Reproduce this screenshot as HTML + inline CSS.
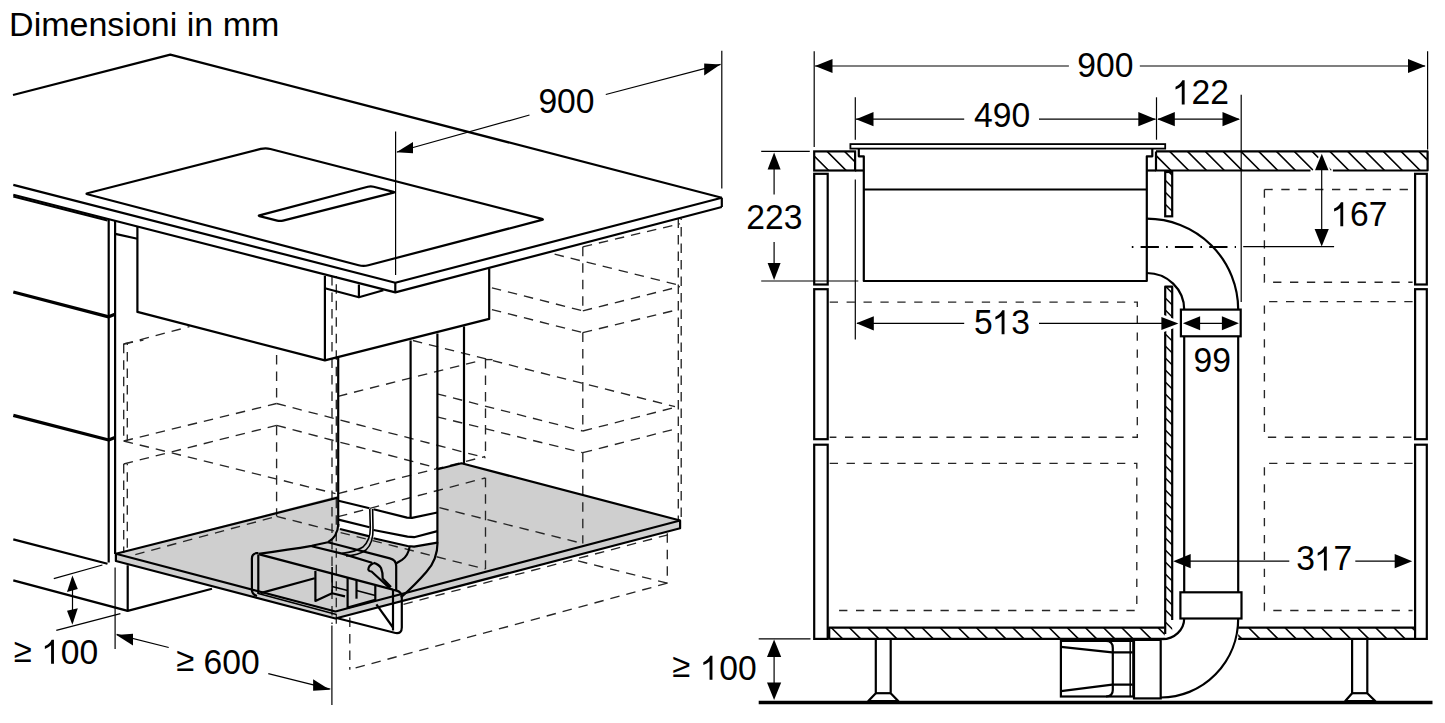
<!DOCTYPE html>
<html><head><meta charset="utf-8"><style>
html,body{margin:0;padding:0;background:#fff;}
svg{display:block;}
text{font-family:"Liberation Sans",sans-serif;fill:#000;}
</style></head><body>
<svg width="1445" height="723" viewBox="0 0 1445 723">
<rect width="1445" height="723" fill="#fff"/>
<polygon points="115.9,553.8 461.5,463.3 680.1,520.5 335.4,611.5" fill="#cfcfcf" stroke="none" stroke-width="0"/>
<polygon points="115.9,553.8 335.4,611.5 335.4,618.5 115.9,561.0" fill="#cfcfcf" stroke="none" stroke-width="0"/>
<polygon points="335.4,611.5 680.1,520.5 680.1,528.2 335.4,618.5" fill="#cfcfcf" stroke="none" stroke-width="0"/>
<polygon points="338.2,357.5 410.4,340.5 437.4,333.5 437.4,542.0 414.0,546.6 407.5,546.0 371.0,537.5 340.0,529.0 338.5,527.0" fill="#fff" stroke="none" stroke-width="0"/>
<polyline points="123.7,343.8 123.7,441.0" fill="none" stroke="#262626" stroke-width="1.35" stroke-dasharray="9.5 7" stroke-dashoffset="0"/>
<polyline points="127.3,343.8 127.3,441.0" fill="none" stroke="#262626" stroke-width="1.35" stroke-dasharray="9.5 7" stroke-dashoffset="8.2"/>
<polyline points="123.7,464.0 123.7,553.0" fill="none" stroke="#262626" stroke-width="1.35" stroke-dasharray="9.5 7" stroke-dashoffset="0"/>
<polyline points="127.3,464.0 127.3,553.0" fill="none" stroke="#262626" stroke-width="1.35" stroke-dasharray="9.5 7" stroke-dashoffset="8.2"/>
<polyline points="123.7,344.0 143.4,340.0" fill="none" stroke="#262626" stroke-width="1.35" stroke-dasharray="9.5 7" stroke-dashoffset="0"/>
<polyline points="123.7,344.0 189.5,326.7" fill="none" stroke="#262626" stroke-width="1.35" stroke-dasharray="9.5 7" stroke-dashoffset="0"/>
<polyline points="276.6,355.0 276.6,404.0" fill="none" stroke="#262626" stroke-width="1.35" stroke-dasharray="9.5 7" stroke-dashoffset="0"/>
<polyline points="276.6,425.8 276.6,516.0" fill="none" stroke="#262626" stroke-width="1.35" stroke-dasharray="9.5 7" stroke-dashoffset="0"/>
<polyline points="123.7,441.0 276.6,403.5" fill="none" stroke="#262626" stroke-width="1.35" stroke-dasharray="9.5 7" stroke-dashoffset="0"/>
<polyline points="123.7,464.0 276.6,425.3" fill="none" stroke="#262626" stroke-width="1.35" stroke-dasharray="9.5 7" stroke-dashoffset="0"/>
<polyline points="276.6,403.5 485.5,457.8" fill="none" stroke="#262626" stroke-width="1.35" stroke-dasharray="9.5 7" stroke-dashoffset="0"/>
<polyline points="276.6,425.3 437.0,468.0" fill="none" stroke="#262626" stroke-width="1.35" stroke-dasharray="9.5 7" stroke-dashoffset="0"/>
<polyline points="123.7,441.0 335.5,493.6" fill="none" stroke="#262626" stroke-width="1.35" stroke-dasharray="9.5 7" stroke-dashoffset="0"/>
<polyline points="332.0,276.0 332.0,624.0" fill="none" stroke="#262626" stroke-width="1.35" stroke-dasharray="9.5 7" stroke-dashoffset="0"/>
<polyline points="336.3,276.0 336.3,624.0" fill="none" stroke="#262626" stroke-width="1.35" stroke-dasharray="9.5 7" stroke-dashoffset="8.2"/>
<polyline points="338.0,396.3 480.4,360.5" fill="none" stroke="#262626" stroke-width="1.35" stroke-dasharray="9.5 7" stroke-dashoffset="0"/>
<polyline points="338.0,493.6 485.2,456.5" fill="none" stroke="#262626" stroke-width="1.35" stroke-dasharray="9.5 7" stroke-dashoffset="0"/>
<polyline points="338.0,516.7 485.2,478.0" fill="none" stroke="#262626" stroke-width="1.35" stroke-dasharray="9.5 7" stroke-dashoffset="0"/>
<polyline points="412.9,340.5 675.0,406.6" fill="none" stroke="#262626" stroke-width="1.35" stroke-dasharray="9.5 7" stroke-dashoffset="0"/>
<polyline points="485.5,359.0 485.5,457.3" fill="none" stroke="#262626" stroke-width="1.35" stroke-dasharray="9.5 7" stroke-dashoffset="0"/>
<polyline points="485.5,477.8 485.5,569.0" fill="none" stroke="#262626" stroke-width="1.35" stroke-dasharray="9.5 7" stroke-dashoffset="0"/>
<polyline points="437.0,393.8 582.8,431.0" fill="none" stroke="#262626" stroke-width="1.35" stroke-dasharray="9.5 7" stroke-dashoffset="0"/>
<polyline points="437.0,416.8 582.8,452.7" fill="none" stroke="#262626" stroke-width="1.35" stroke-dasharray="9.5 7" stroke-dashoffset="0"/>
<polyline points="582.8,431.0 678.0,406.6" fill="none" stroke="#262626" stroke-width="1.35" stroke-dasharray="9.5 7" stroke-dashoffset="0"/>
<polyline points="582.8,452.7 678.0,428.3" fill="none" stroke="#262626" stroke-width="1.35" stroke-dasharray="9.5 7" stroke-dashoffset="0"/>
<polyline points="582.8,246.8 582.8,310.8" fill="none" stroke="#262626" stroke-width="1.35" stroke-dasharray="9.5 7" stroke-dashoffset="0"/>
<polyline points="582.8,332.6 582.8,431.0" fill="none" stroke="#262626" stroke-width="1.35" stroke-dasharray="9.5 7" stroke-dashoffset="0"/>
<polyline points="582.8,452.7 582.8,543.5" fill="none" stroke="#262626" stroke-width="1.35" stroke-dasharray="9.5 7" stroke-dashoffset="0"/>
<polyline points="582.8,246.8 680.0,223.8" fill="none" stroke="#262626" stroke-width="1.35" stroke-dasharray="9.5 7" stroke-dashoffset="0"/>
<polyline points="554.6,254.2 680.0,285.4" fill="none" stroke="#262626" stroke-width="1.35" stroke-dasharray="9.5 7" stroke-dashoffset="0"/>
<polyline points="582.8,310.8 680.0,286.5" fill="none" stroke="#262626" stroke-width="1.35" stroke-dasharray="9.5 7" stroke-dashoffset="0"/>
<polyline points="491.9,287.8 582.8,310.8" fill="none" stroke="#262626" stroke-width="1.35" stroke-dasharray="9.5 7" stroke-dashoffset="0"/>
<polyline points="491.9,309.6 582.8,332.6" fill="none" stroke="#262626" stroke-width="1.35" stroke-dasharray="9.5 7" stroke-dashoffset="0"/>
<polyline points="582.8,332.6 678.0,309.6" fill="none" stroke="#262626" stroke-width="1.35" stroke-dasharray="9.5 7" stroke-dashoffset="0"/>
<polyline points="678.3,218.6 678.3,520.0" fill="none" stroke="#262626" stroke-width="1.35" stroke-dasharray="9.5 7" stroke-dashoffset="0"/>
<polyline points="681.2,218.6 681.2,520.0" fill="none" stroke="#262626" stroke-width="1.35" stroke-dasharray="9.5 7" stroke-dashoffset="8.2"/>
<polyline points="485.5,359.6 492.5,359.6" fill="none" stroke="#262626" stroke-width="1.35" stroke-dasharray="9.5 7" stroke-dashoffset="0"/>
<polyline points="135.3,554.6 276.6,516.4" fill="none" stroke="#262626" stroke-width="1.35" stroke-dasharray="9.5 7" stroke-dashoffset="0"/>
<polyline points="276.6,516.4 485.5,569.1" fill="none" stroke="#262626" stroke-width="1.35" stroke-dasharray="9.5 7" stroke-dashoffset="0"/>
<polyline points="439.4,507.7 582.8,543.5" fill="none" stroke="#262626" stroke-width="1.35" stroke-dasharray="9.5 7" stroke-dashoffset="0"/>
<polyline points="403.5,604.3 672.9,533.5" fill="none" stroke="#262626" stroke-width="1.35" stroke-dasharray="9.5 7" stroke-dashoffset="0"/>
<polyline points="667.3,533.3 667.3,583.2" fill="none" stroke="#262626" stroke-width="1.35" stroke-dasharray="9.5 7" stroke-dashoffset="0"/>
<polyline points="667.3,583.2 349.8,669.5" fill="none" stroke="#262626" stroke-width="1.35" stroke-dasharray="9.5 7" stroke-dashoffset="0"/>
<polyline points="667.3,583.2 575.1,560.2" fill="none" stroke="#262626" stroke-width="1.35" stroke-dasharray="9.5 7" stroke-dashoffset="0"/>
<polyline points="349.8,617.6 349.8,669.7" fill="none" stroke="#262626" stroke-width="1.35" stroke-dasharray="9.5 7" stroke-dashoffset="0"/>
<polyline points="115.9,553.8 337.8,497.6" fill="none" stroke="#000" stroke-width="2.2" stroke-linejoin="round" stroke-linecap="butt" />
<polyline points="437.6,469.3 461.5,463.3 680.1,520.5" fill="none" stroke="#000" stroke-width="2.2" stroke-linejoin="round" stroke-linecap="butt" />
<polyline points="115.9,553.8 335.4,611.5 680.1,520.5 680.1,528.2 335.4,618.5 115.9,561.0 115.9,553.8" fill="none" stroke="#000" stroke-width="2.2" stroke-linejoin="round" stroke-linecap="butt" />
<polyline points="13.0,95.0 170.3,54.6 721.8,197.7" fill="none" stroke="#000" stroke-width="2.2" stroke-linejoin="round" stroke-linecap="butt" />
<polyline points="721.8,197.7 721.8,207.0" fill="none" stroke="#000" stroke-width="2.2" stroke-linejoin="round" stroke-linecap="butt" />
<polyline points="721.8,197.7 395.3,282.7 13.3,184.9" fill="none" stroke="#000" stroke-width="2.2" stroke-linejoin="round" stroke-linecap="butt" />
<polyline points="721.8,207.0 395.3,292.4 13.3,194.8" fill="none" stroke="#000" stroke-width="2.2" stroke-linejoin="round" stroke-linecap="butt" />
<polyline points="395.3,282.7 395.3,292.4" fill="none" stroke="#000" stroke-width="2.2" stroke-linejoin="round" stroke-linecap="butt" />
<polyline points="13.3,196.5 107.5,220.5" fill="none" stroke="#000" stroke-width="2.2" stroke-linejoin="round" stroke-linecap="butt" />
<path d="M87.43,194.31 Q85.50,193.80 87.44,193.30 L260.76,148.94 Q265.60,147.70 270.44,148.95 L541.96,218.90 Q543.90,219.40 541.96,219.91 L368.34,265.24 Q363.50,266.50 358.66,265.23 Z" fill="none" stroke="#000" stroke-width="2.2" stroke-linejoin="round"/>
<path d="M259.46,216.16 Q258.00,215.80 259.45,215.42 L367.80,186.77 Q370.70,186.00 373.60,186.75 L393.55,191.92 Q395.00,192.30 393.55,192.67 L283.01,220.57 Q280.10,221.30 277.19,220.58 Z" fill="none" stroke="#000" stroke-width="2.2" stroke-linejoin="round"/>
<polyline points="108.7,219.5 108.7,562.5" fill="none" stroke="#000" stroke-width="2.2" stroke-linejoin="round" stroke-linecap="butt" />
<polyline points="115.1,221.0 115.1,554.0" fill="none" stroke="#000" stroke-width="2.2" stroke-linejoin="round" stroke-linecap="butt" />
<polyline points="13.3,292.0 108.7,316.8 114.9,314.2" fill="none" stroke="#000" stroke-width="3.3" stroke-linejoin="round" stroke-linecap="butt" />
<polyline points="13.3,415.3 108.7,440.0 114.9,437.5" fill="none" stroke="#000" stroke-width="3.3" stroke-linejoin="round" stroke-linecap="butt" />
<polyline points="13.3,539.4 107.5,563.8" fill="none" stroke="#000" stroke-width="2.2" stroke-linejoin="round" stroke-linecap="butt" />
<polyline points="13.3,580.4 127.7,610.9" fill="none" stroke="#000" stroke-width="2.2" stroke-linejoin="round" stroke-linecap="butt" />
<polyline points="127.7,565.3 127.7,610.9 212.0,588.8" fill="none" stroke="#000" stroke-width="2.2" stroke-linejoin="round" stroke-linecap="butt" />
<polyline points="137.4,227.0 137.4,311.9 324.9,360.4 489.2,318.9 489.2,268.5" fill="none" stroke="#000" stroke-width="2.2" stroke-linejoin="round" stroke-linecap="butt" />
<polyline points="324.9,275.8 324.9,360.4" fill="none" stroke="#000" stroke-width="2.2" stroke-linejoin="round" stroke-linecap="butt" />
<polyline points="324.9,288.2 358.9,297.3 383.4,290.3" fill="none" stroke="#000" stroke-width="2.2" stroke-linejoin="round" stroke-linecap="butt" />
<polyline points="358.9,284.5 358.9,297.3" fill="none" stroke="#000" stroke-width="2.2" stroke-linejoin="round" stroke-linecap="butt" />
<polyline points="115.3,233.9 137.4,238.8" fill="none" stroke="#000" stroke-width="2.2" stroke-linejoin="round" stroke-linecap="butt" />
<polyline points="338.2,357.5 338.2,527.0" fill="none" stroke="#000" stroke-width="2.2" stroke-linejoin="round" stroke-linecap="butt" />
<polyline points="410.6,340.5 410.6,518.0" fill="none" stroke="#000" stroke-width="2.2" stroke-linejoin="round" stroke-linecap="butt" />
<polyline points="437.4,333.5 437.4,542.0" fill="none" stroke="#000" stroke-width="2.2" stroke-linejoin="round" stroke-linecap="butt" />
<polyline points="464.0,326.4 464.0,464.2" fill="none" stroke="#000" stroke-width="2.2" stroke-linejoin="round" stroke-linecap="butt" />
<polyline points="338.5,500.7 369.5,508.3" fill="none" stroke="#000" stroke-width="2.2" stroke-linejoin="round" stroke-linecap="butt" />
<polyline points="373.5,509.2 407.0,517.6 412.0,517.9 437.4,512.5" fill="none" stroke="#000" stroke-width="2.2" stroke-linejoin="round" stroke-linecap="butt" />
<polyline points="338.5,519.6 369.5,527.2" fill="none" stroke="#000" stroke-width="2.2" stroke-linejoin="round" stroke-linecap="butt" />
<polyline points="373.5,530.0 407.5,536.6 414.1,537.2 437.4,531.1" fill="none" stroke="#000" stroke-width="2.2" stroke-linejoin="round" stroke-linecap="butt" />
<polyline points="340.0,529.0 369.5,536.4" fill="none" stroke="#000" stroke-width="2.2" stroke-linejoin="round" stroke-linecap="butt" />
<polyline points="373.5,538.3 407.5,546.0 414.1,546.6 437.4,542.7" fill="none" stroke="#000" stroke-width="2.2" stroke-linejoin="round" stroke-linecap="butt" />
<path d="M369.8,509 L370.3,528 Q370.5,540 363,547 Q355,552 342.2,553.2" fill="none" stroke="#000" stroke-width="1.6" stroke-linejoin="round"/>
<path d="M372.6,509 L373,528 Q373.5,543 366,550 Q358,555.5 346,556" fill="none" stroke="#000" stroke-width="1.6" stroke-linejoin="round"/>
<path d="M338.4,524 Q337.5,537 327.9,542.2" fill="none" stroke="#000" stroke-width="2.2" stroke-linejoin="round"/>
<path d="M437.6,542 Q437.5,560 426.3,572 Q416,584 400.9,597.5" fill="none" stroke="#000" stroke-width="2.2" stroke-linejoin="round"/>
<path d="M409.7,546.6 Q408,556 402,559.9 L396.4,563.2" fill="none" stroke="#000" stroke-width="2.2" stroke-linejoin="round"/>
<path d="M258.5,553.8 Q290,549.5 311.7,545.8 L327.9,542.2" fill="none" stroke="#000" stroke-width="2.2" stroke-linejoin="round"/>
<polyline points="311.7,546.2 343.0,553.9 372.0,562.7" fill="none" stroke="#000" stroke-width="2.2" stroke-linejoin="round" stroke-linecap="butt" />
<path d="M327.9,542.2 L389.9,558.4 Q396.2,560 396.2,566 L396.2,590" fill="none" stroke="#000" stroke-width="2.2" stroke-linejoin="round"/>
<polyline points="259.4,554.4 393.0,589.6" fill="none" stroke="#000" stroke-width="2.2" stroke-linejoin="round" stroke-linecap="butt" />
<polyline points="260.5,593.1 314.7,578.2" fill="none" stroke="#000" stroke-width="2.2" stroke-linejoin="round" stroke-linecap="butt" />
<polyline points="315.4,571.0 315.4,601.0 332.1,593.2 345.0,596.4" fill="none" stroke="#000" stroke-width="2.2" stroke-linejoin="round" stroke-linecap="butt" />
<polyline points="332.1,567.0 332.1,593.2" fill="none" stroke="#000" stroke-width="1.6" stroke-linejoin="round" stroke-linecap="butt" />
<polyline points="347.6,577.7 347.6,607.6 375.3,599.9 375.3,585.5" fill="none" stroke="#000" stroke-width="2.2" stroke-linejoin="round" stroke-linecap="butt" />
<polyline points="356.5,580.5 356.5,598.7" fill="none" stroke="#000" stroke-width="2.2" stroke-linejoin="round" stroke-linecap="butt" />
<polyline points="332.1,586.5 347.6,590.5" fill="none" stroke="#000" stroke-width="1.6" stroke-linejoin="round" stroke-linecap="butt" />
<polyline points="356.5,590.5 375.3,595.5" fill="none" stroke="#000" stroke-width="1.6" stroke-linejoin="round" stroke-linecap="butt" />
<path d="M373.7,562.9 Q368.3,565.5 368.3,569.5 Q369,571.5 371.5,571.5 L390,588.5 M373.7,562.9 Q379,564.5 381,568 Q383,573 382.7,578.5 L391,587" fill="none" stroke="#000" stroke-width="2.2" stroke-linejoin="round"/>
<polyline points="376.4,604.3 393.0,627.5" fill="none" stroke="#000" stroke-width="2.2" stroke-linejoin="round" stroke-linecap="butt" />
<path d="M258.3,553.2 L256.5,553.2 Q251.9,553.6 251.9,558.5 L251.9,589.5 Q251.9,594.5 257,596" fill="none" stroke="#000" stroke-width="2.2" stroke-linejoin="round"/>
<polyline points="258.3,554.5 258.3,594.0" fill="none" stroke="#000" stroke-width="2.2" stroke-linejoin="round" stroke-linecap="butt" />
<polyline points="258.3,593.5 336.5,614.5" fill="none" stroke="#000" stroke-width="1.6" stroke-linejoin="round" stroke-linecap="butt" />
<path d="M393,589.8 L396.5,590.6 Q401.8,592 401.8,597.5 L401.8,627.5 Q401.8,634 395.5,633 L336.5,618" fill="none" stroke="#000" stroke-width="2.2" stroke-linejoin="round"/>
<polyline points="393.0,590.0 393.0,630.5" fill="none" stroke="#000" stroke-width="2.2" stroke-linejoin="round" stroke-linecap="butt" />
<polyline points="395.6,131.4 395.6,275.0" fill="none" stroke="#000" stroke-width="1.2" stroke-linejoin="round" stroke-linecap="butt" />
<polyline points="721.8,50.8 721.8,188.5" fill="none" stroke="#000" stroke-width="1.2" stroke-linejoin="round" stroke-linecap="butt" />
<polyline points="397.0,152.0 529.5,115.0" fill="none" stroke="#000" stroke-width="1.2" stroke-linejoin="round" stroke-linecap="butt" />
<polyline points="605.8,94.5 720.6,64.3" fill="none" stroke="#000" stroke-width="1.2" stroke-linejoin="round" stroke-linecap="butt" />
<polygon points="396.4,152.3 413.0,141.9 413.0,153.3" fill="#000" stroke="none" stroke-width="0"/>
<polygon points="720.4,64.5 704.2,63.5 704.2,75.4" fill="#000" stroke="none" stroke-width="0"/>
<g transform="translate(538.41,113.08) scale(0.9900,1.0450)"><text x="0.000" y="0" font-size="34">9</text><text x="18.904" y="0" font-size="34">0</text><text x="37.808" y="0" font-size="34">0</text></g>
<polyline points="53.8,578.6 102.4,565.0" fill="none" stroke="#000" stroke-width="1.2" stroke-linejoin="round" stroke-linecap="butt" />
<polyline points="56.3,630.4 120.4,613.7" fill="none" stroke="#000" stroke-width="1.2" stroke-linejoin="round" stroke-linecap="butt" />
<polyline points="72.5,578.0 72.5,622.0" fill="none" stroke="#000" stroke-width="1.2" stroke-linejoin="round" stroke-linecap="butt" />
<polygon points="72.4,575.4 67.0,592.0 77.8,589.1" fill="#000" stroke="none" stroke-width="0"/>
<polygon points="72.4,624.8 67.0,610.7 77.8,608.2" fill="#000" stroke="none" stroke-width="0"/>
<text transform="translate(13.86,662.11) scale(0.9650,0.9950)" x="0" y="0" font-size="34">≥</text>
<g transform="translate(42.08,663.73) scale(0.9900,1.0450)"><path transform="translate(0.000,0)" d="M12,-23 L12,0 L9.1,0 L9.1,-17.6 Q6.6,-15.6 2.8,-14.2 L2.8,-16.9 Q7.6,-18.8 9.7,-23 Z" fill="#000"/><text x="18.904" y="0" font-size="34">0</text><text x="37.808" y="0" font-size="34">0</text></g>
<polyline points="115.1,567.6 115.1,649.1" fill="none" stroke="#000" stroke-width="1.2" stroke-linejoin="round" stroke-linecap="butt" />
<polyline points="331.9,625.4 331.9,705.1" fill="none" stroke="#000" stroke-width="1.2" stroke-linejoin="round" stroke-linecap="butt" />
<polyline points="116.6,634.3 168.7,647.5" fill="none" stroke="#000" stroke-width="1.2" stroke-linejoin="round" stroke-linecap="butt" />
<polyline points="268.3,673.7 330.3,689.2" fill="none" stroke="#000" stroke-width="1.2" stroke-linejoin="round" stroke-linecap="butt" />
<polygon points="116.4,634.9 133.0,633.7 133.0,645.4" fill="#000" stroke="none" stroke-width="0"/>
<polygon points="329.8,689.7 313.1,679.2 313.1,690.8" fill="#000" stroke="none" stroke-width="0"/>
<text transform="translate(176.22,671.30) scale(0.9650,0.9950)" x="0" y="0" font-size="34">≥</text>
<g transform="translate(203.60,674.19) scale(0.9900,1.0450)"><text x="0.000" y="0" font-size="34">6</text><text x="18.904" y="0" font-size="34">0</text><text x="37.808" y="0" font-size="34">0</text></g>
<text transform="translate(9.10,36.00) scale(1.0000,1.0000)" x="0" y="0" font-size="34">Dimensioni in mm</text>
<clipPath id="c0_814_151"><rect x="814.2" y="151.4" width="40.89999999999998" height="19.099999999999994"/></clipPath>
<path d="M792.1,151.4 L811.2,170.5 M809.6,151.4 L828.7,170.5 M827.1,151.4 L846.2,170.5 M844.6,151.4 L863.7,170.5" stroke="#000" stroke-width="1.6" clip-path="url(#c0_814_151)"/>
<rect x="814.2" y="151.4" width="40.89999999999998" height="19.099999999999994" fill="none" stroke="#000" stroke-width="2.2"/>
<clipPath id="c3_1156_151"><rect x="1156" y="151.4" width="271.5999999999999" height="19.099999999999994"/></clipPath>
<path d="M1134.1,151.4 L1153.2,170.5 M1151.9,151.4 L1171.0,170.5 M1169.7,151.4 L1188.8,170.5 M1187.5,151.4 L1206.6,170.5 M1205.3,151.4 L1224.4,170.5 M1223.1,151.4 L1242.2,170.5 M1240.9,151.4 L1260.0,170.5 M1258.7,151.4 L1277.8,170.5 M1276.5,151.4 L1295.6,170.5 M1294.3,151.4 L1313.4,170.5 M1312.1,151.4 L1331.2,170.5 M1329.9,151.4 L1349.0,170.5 M1347.7,151.4 L1366.8,170.5 M1365.5,151.4 L1384.6,170.5 M1383.3,151.4 L1402.4,170.5 M1401.1,151.4 L1420.2,170.5 M1418.9,151.4 L1438.0,170.5" stroke="#000" stroke-width="1.6" clip-path="url(#c3_1156_151)"/>
<polygon points="1321.8,153.8 1328.5,170.2 1315.0,170.2" fill="#fff" stroke="#fff" stroke-width="3.6"/>
<polyline points="1156.0,151.4 1427.6,151.4 1427.6,170.5 1332.9,170.5" fill="none" stroke="#000" stroke-width="2.2" stroke-linejoin="round" stroke-linecap="butt" />
<polyline points="1310.5,170.5 1156.0,170.5 1156.0,151.4" fill="none" stroke="#000" stroke-width="2.2" stroke-linejoin="round" stroke-linecap="butt" />
<polyline points="855.1,170.5 863.8,170.5" fill="none" stroke="#000" stroke-width="2.2" stroke-linejoin="round" stroke-linecap="butt" />
<polyline points="1146.8,170.5 1156.0,170.5" fill="none" stroke="#000" stroke-width="2.2" stroke-linejoin="round" stroke-linecap="butt" />
<rect x="850.4" y="144.1" width="314.80000000000007" height="4.5" fill="none" stroke="#000" stroke-width="1.8"/>
<polyline points="858.8,148.6 858.8,156.3 863.8,156.3 863.8,281.0 1146.8,281.0 1146.8,156.3 1152.3,156.3 1152.3,148.6" fill="none" stroke="#000" stroke-width="2.2" stroke-linejoin="round" stroke-linecap="butt" />
<polyline points="863.8,189.5 1146.8,189.5" fill="none" stroke="#000" stroke-width="2.2" stroke-linejoin="round" stroke-linecap="butt" />
<rect x="814.2" y="173.8" width="13.5" height="110.69999999999999" fill="none" stroke="#000" stroke-width="2.2"/>
<rect x="814.2" y="289.2" width="13.5" height="150.0" fill="none" stroke="#000" stroke-width="2.2"/>
<rect x="814.2" y="444.7" width="13.5" height="194.2" fill="none" stroke="#000" stroke-width="2.2"/>
<rect x="1415.1" y="173.8" width="11.700000000000045" height="110.69999999999999" fill="none" stroke="#000" stroke-width="2.2"/>
<rect x="1415.1" y="289.2" width="11.700000000000045" height="150.0" fill="none" stroke="#000" stroke-width="2.2"/>
<rect x="1415.1" y="444.7" width="11.700000000000045" height="194.2" fill="none" stroke="#000" stroke-width="2.2"/>
<clipPath id="c19_1165_172"><rect x="1165.2" y="172" width="7.0" height="44.30000000000001"/></clipPath>
<path d="M1120.9,172 L1165.2,216.3 M1132.9,172 L1177.2,216.3 M1144.9,172 L1189.2,216.3 M1156.9,172 L1201.2,216.3 M1168.9,172 L1213.2,216.3" stroke="#000" stroke-width="1.4" clip-path="url(#c19_1165_172)"/>
<rect x="1165.2" y="172" width="7.0" height="44.30000000000001" fill="none" stroke="#000" stroke-width="2.2"/>
<clipPath id="c22_1165_286"><rect x="1165.2" y="286.7" width="7.0" height="347.3"/></clipPath>
<path d="M817.9,286.7 L1165.2,634 M829.9,286.7 L1177.2,634 M841.9,286.7 L1189.2,634 M853.9,286.7 L1201.2,634 M865.9,286.7 L1213.2,634 M877.9,286.7 L1225.2,634 M889.9,286.7 L1237.2,634 M901.9,286.7 L1249.2,634 M913.9,286.7 L1261.2,634 M925.9,286.7 L1273.2,634 M937.9,286.7 L1285.2,634 M949.9,286.7 L1297.2,634 M961.9,286.7 L1309.2,634 M973.9,286.7 L1321.2,634 M985.9,286.7 L1333.2,634 M997.9,286.7 L1345.2,634 M1009.9,286.7 L1357.2,634 M1021.9,286.7 L1369.2,634 M1033.9,286.7 L1381.2,634 M1045.9,286.7 L1393.2,634 M1057.9,286.7 L1405.2,634 M1069.9,286.7 L1417.2,634 M1081.9,286.7 L1429.2,634 M1093.9,286.7 L1441.2,634 M1105.9,286.7 L1453.2,634 M1117.9,286.7 L1465.2,634 M1129.9,286.7 L1477.2,634 M1141.9,286.7 L1489.2,634 M1153.9,286.7 L1501.2,634 M1165.9,286.7 L1513.2,634" stroke="#000" stroke-width="1.4" clip-path="url(#c22_1165_286)"/>
<polyline points="1165.2,634.0 1165.2,286.7 1172.2,286.7 1172.2,620.0" fill="none" stroke="#000" stroke-width="2.2" stroke-linejoin="round" stroke-linecap="butt" />
<polygon points="1178.4,323.5 1161.4,330.1 1161.4,316.9" fill="#fff" stroke="#fff" stroke-width="5.2"/>
<clipPath id="c26_829_627"><rect x="829.2" y="627.7" width="335.5" height="11.199999999999932"/></clipPath>
<path d="M813.2,627.7 L824.4,638.9 M831.4,627.7 L842.6,638.9 M849.5,627.7 L860.7,638.9 M867.7,627.7 L878.9,638.9 M885.8,627.7 L897.0,638.9 M904.0,627.7 L915.1,638.9 M922.1,627.7 L933.3,638.9 M940.2,627.7 L951.4,638.9 M958.4,627.7 L969.6,638.9 M976.5,627.7 L987.7,638.9 M994.7,627.7 L1005.9,638.9 M1012.8,627.7 L1024.0,638.9 M1031.0,627.7 L1042.2,638.9 M1049.2,627.7 L1060.3,638.9 M1067.3,627.7 L1078.5,638.9 M1085.5,627.7 L1096.7,638.9 M1103.6,627.7 L1114.8,638.9 M1121.8,627.7 L1133.0,638.9 M1139.9,627.7 L1151.1,638.9 M1158.1,627.7 L1169.3,638.9" stroke="#000" stroke-width="1.6" clip-path="url(#c26_829_627)"/>
<polyline points="829.2,638.9 829.2,627.7 1164.7,627.7" fill="none" stroke="#000" stroke-width="2.2" stroke-linejoin="round" stroke-linecap="butt" />
<polyline points="829.2,638.9 1164.7,638.9" fill="none" stroke="#000" stroke-width="2.2" stroke-linejoin="round" stroke-linecap="butt" />
<clipPath id="c30_1238_627"><rect x="1238.2" y="627.7" width="175.70000000000005" height="11.199999999999932"/></clipPath>
<path d="M1230.5,627.7 L1241.7,638.9 M1248.7,627.7 L1259.8,638.9 M1266.8,627.7 L1278.0,638.9 M1285.0,627.7 L1296.2,638.9 M1303.1,627.7 L1314.3,638.9 M1321.3,627.7 L1332.5,638.9 M1339.4,627.7 L1350.6,638.9 M1357.6,627.7 L1368.8,638.9 M1375.7,627.7 L1386.9,638.9 M1393.9,627.7 L1405.1,638.9 M1412.0,627.7 L1423.2,638.9" stroke="#000" stroke-width="1.6" clip-path="url(#c30_1238_627)"/>
<polyline points="1238.2,627.7 1415.0,627.7" fill="none" stroke="#000" stroke-width="2.2" stroke-linejoin="round" stroke-linecap="butt" />
<polyline points="1238.2,638.9 1415.0,638.9" fill="none" stroke="#000" stroke-width="2.2" stroke-linejoin="round" stroke-linecap="butt" />
<polyline points="758.7,702.4 1432.5,702.4" fill="none" stroke="#000" stroke-width="3.5" stroke-linejoin="round" stroke-linecap="butt" />
<polyline points="875.8,639.0 875.8,693.2 868.3,701.0 898.2,701.0 890.7,693.2 890.7,639.0" fill="none" stroke="#000" stroke-width="2.2" stroke-linejoin="round" stroke-linecap="butt" />
<polyline points="875.8,693.2 890.7,693.2" fill="none" stroke="#000" stroke-width="2.2" stroke-linejoin="round" stroke-linecap="butt" />
<polyline points="1352.1,639.0 1352.1,693.2 1345.3,701.0 1375.2,701.0 1367.3,693.2 1367.3,639.0" fill="none" stroke="#000" stroke-width="2.2" stroke-linejoin="round" stroke-linecap="butt" />
<polyline points="1352.1,693.2 1367.3,693.2" fill="none" stroke="#000" stroke-width="2.2" stroke-linejoin="round" stroke-linecap="butt" />
<path d="M1146.5,218.7 A91.5,91 0 0 1 1238.2,309.6" fill="none" stroke="#000" stroke-width="2.2" stroke-linejoin="round"/>
<path d="M1146.5,273 A37.5,36.6 0 0 1 1184.2,309.6" fill="none" stroke="#000" stroke-width="2.2" stroke-linejoin="round"/>
<rect x="1180.9" y="309.6" width="59.799999999999955" height="26.69999999999999" fill="none" stroke="#000" stroke-width="2.2"/>
<polyline points="1184.2,336.3 1184.2,592.3" fill="none" stroke="#000" stroke-width="2.2" stroke-linejoin="round" stroke-linecap="butt" />
<polyline points="1238.2,336.3 1238.2,592.3" fill="none" stroke="#000" stroke-width="2.2" stroke-linejoin="round" stroke-linecap="butt" />
<rect x="1180.4" y="592.3" width="61.09999999999991" height="26.200000000000045" fill="none" stroke="#000" stroke-width="2.2"/>
<path d="M1238.2,618.5 A77.5,79 0 0 1 1161,697.5" fill="none" stroke="#000" stroke-width="2.2" stroke-linejoin="round"/>
<path d="M1184.2,618.5 A22,20.7 0 0 1 1162.2,639.2" fill="none" stroke="#000" stroke-width="2.2" stroke-linejoin="round"/>
<rect x="1134" y="639.9" width="26.700000000000045" height="58.5" fill="none" stroke="#000" stroke-width="2.2"/>
<rect x="1060.9" y="640.9" width="72.39999999999986" height="55.60000000000002" fill="none" stroke="#000" stroke-width="2.2"/>
<path d="M1061,641 L1106,641 Q1112.8,641 1112.8,648 L1112.8,690 Q1112.8,696.5 1106,696.5" fill="none" stroke="#000" stroke-width="2.2" stroke-linejoin="round"/>
<polyline points="1061.0,646.8 1112.2,652.4 1132.7,652.4" fill="none" stroke="#000" stroke-width="2.2" stroke-linejoin="round" stroke-linecap="butt" />
<polyline points="1061.0,691.2 1112.2,684.7 1132.7,684.7" fill="none" stroke="#000" stroke-width="2.2" stroke-linejoin="round" stroke-linecap="butt" />
<polyline points="1130.2,641.0 1130.2,696.0" fill="none" stroke="#000" stroke-width="1.5" stroke-linejoin="round" stroke-linecap="butt" />
<polyline points="829.7,302.1 1137.3,302.1 1137.3,437.2 829.7,437.2" fill="none" stroke="#262626" stroke-width="1.35" stroke-dasharray="8.3 8.6" stroke-dashoffset="0"/>
<polyline points="829.7,463.4 1136.8,463.4 1136.8,610.5 834.2,610.5" fill="none" stroke="#262626" stroke-width="1.35" stroke-dasharray="8.3 8.6" stroke-dashoffset="0"/>
<polyline points="1264.4,189.5 1412.6,189.5" fill="none" stroke="#262626" stroke-width="1.35" stroke-dasharray="8.3 8.6" stroke-dashoffset="0"/>
<polyline points="1264.4,189.5 1264.4,282.2 1412.6,282.2" fill="none" stroke="#262626" stroke-width="1.35" stroke-dasharray="8.3 8.6" stroke-dashoffset="0"/>
<polyline points="1412.6,301.6 1264.4,301.6 1264.4,437.2 1412.6,437.2" fill="none" stroke="#262626" stroke-width="1.35" stroke-dasharray="8.3 8.6" stroke-dashoffset="0"/>
<polyline points="1412.6,463.4 1264.4,463.4 1264.4,610.5 1412.6,610.5" fill="none" stroke="#262626" stroke-width="1.35" stroke-dasharray="8.3 8.6" stroke-dashoffset="0"/>
<line x1="1131.8" y1="246.9" x2="1236" y2="246.9" stroke="#000" stroke-width="2" stroke-dasharray="1.6 7.2 18.3 7.2" />
<polyline points="1243.2,246.6 1334.1,246.6" fill="none" stroke="#000" stroke-width="1.2" stroke-linejoin="round" stroke-linecap="butt" />
<polyline points="814.2,51.2 814.2,147.1" fill="none" stroke="#000" stroke-width="1.2" stroke-linejoin="round" stroke-linecap="butt" />
<polyline points="1427.6,51.2 1427.6,149.6" fill="none" stroke="#000" stroke-width="1.2" stroke-linejoin="round" stroke-linecap="butt" />
<polyline points="855.3,97.3 855.3,139.7" fill="none" stroke="#000" stroke-width="1.2" stroke-linejoin="round" stroke-linecap="butt" />
<polyline points="1156.5,97.3 1156.5,139.7" fill="none" stroke="#000" stroke-width="1.2" stroke-linejoin="round" stroke-linecap="butt" />
<polyline points="1241.2,94.8 1241.2,302.1" fill="none" stroke="#000" stroke-width="1.2" stroke-linejoin="round" stroke-linecap="butt" />
<polyline points="855.3,179.5 855.3,339.5" fill="none" stroke="#000" stroke-width="1.2" stroke-linejoin="round" stroke-linecap="butt" />
<polyline points="761.2,151.4 809.8,151.4" fill="none" stroke="#000" stroke-width="1.2" stroke-linejoin="round" stroke-linecap="butt" />
<polyline points="761.2,281.0 858.3,281.0" fill="none" stroke="#000" stroke-width="1.2" stroke-linejoin="round" stroke-linecap="butt" />
<polyline points="758.7,638.9 810.5,638.9" fill="none" stroke="#000" stroke-width="1.2" stroke-linejoin="round" stroke-linecap="butt" />
<polyline points="815.0,66.0 1068.9,66.0" fill="none" stroke="#000" stroke-width="1.2" stroke-linejoin="round" stroke-linecap="butt" />
<polyline points="1139.8,66.0 1425.1,66.0" fill="none" stroke="#000" stroke-width="1.2" stroke-linejoin="round" stroke-linecap="butt" />
<polygon points="815.0,66.0 832.5,58.9 832.5,73.1" fill="#000" stroke="none" stroke-width="0"/>
<polygon points="1425.5,66.0 1408.0,73.1 1408.0,58.9" fill="#000" stroke="none" stroke-width="0"/>
<g transform="translate(1077.32,77.43) scale(0.9900,1.0450)"><text x="0.000" y="0" font-size="34">9</text><text x="18.904" y="0" font-size="34">0</text><text x="37.808" y="0" font-size="34">0</text></g>
<polyline points="856.0,119.2 964.2,119.2" fill="none" stroke="#000" stroke-width="1.2" stroke-linejoin="round" stroke-linecap="butt" />
<polyline points="1039.0,119.2 1155.5,119.2" fill="none" stroke="#000" stroke-width="1.2" stroke-linejoin="round" stroke-linecap="butt" />
<polygon points="856.0,119.2 873.5,112.1 873.5,126.3" fill="#000" stroke="none" stroke-width="0"/>
<polygon points="1155.8,119.2 1138.3,126.3 1138.3,112.1" fill="#000" stroke="none" stroke-width="0"/>
<g transform="translate(974.00,127.01) scale(0.9900,1.0450)"><text x="0.000" y="0" font-size="34">4</text><text x="18.904" y="0" font-size="34">9</text><text x="37.808" y="0" font-size="34">0</text></g>
<polyline points="1158.0,119.2 1238.7,119.2" fill="none" stroke="#000" stroke-width="1.2" stroke-linejoin="round" stroke-linecap="butt" />
<polygon points="1157.3,119.2 1174.8,112.1 1174.8,126.3" fill="#000" stroke="none" stroke-width="0"/>
<polygon points="1240.0,119.2 1222.5,126.3 1222.5,112.1" fill="#000" stroke="none" stroke-width="0"/>
<g transform="translate(1172.76,104.39) scale(0.9900,1.0450)"><path transform="translate(0.000,0)" d="M12,-23 L12,0 L9.1,0 L9.1,-17.6 Q6.6,-15.6 2.8,-14.2 L2.8,-16.9 Q7.6,-18.8 9.7,-23 Z" fill="#000"/><text x="18.904" y="0" font-size="34">2</text><text x="37.808" y="0" font-size="34">2</text></g>
<polygon points="774.1,152.6 780.6,169.6 767.6,169.6" fill="#000" stroke="none" stroke-width="0"/>
<polyline points="774.1,160.0 774.1,194.5" fill="none" stroke="#000" stroke-width="1.2" stroke-linejoin="round" stroke-linecap="butt" />
<polygon points="774.1,280.0 767.6,263.0 780.6,263.0" fill="#000" stroke="none" stroke-width="0"/>
<polyline points="774.1,241.9 774.1,270.0" fill="none" stroke="#000" stroke-width="1.2" stroke-linejoin="round" stroke-linecap="butt" />
<g transform="translate(746.27,228.95) scale(0.9900,1.0450)"><text x="0.000" y="0" font-size="34">2</text><text x="18.904" y="0" font-size="34">2</text><text x="37.808" y="0" font-size="34">3</text></g>
<polygon points="1321.8,153.8 1328.5,170.2 1315.0,170.2" fill="#000" stroke="none" stroke-width="0"/>
<polyline points="1321.7,165.0 1321.7,235.0" fill="none" stroke="#000" stroke-width="1.2" stroke-linejoin="round" stroke-linecap="butt" />
<polygon points="1321.7,246.4 1314.6,228.9 1328.8,228.9" fill="#000" stroke="none" stroke-width="0"/>
<g transform="translate(1331.33,226.27) scale(0.9900,1.0450)"><path transform="translate(0.000,0)" d="M12,-23 L12,0 L9.1,0 L9.1,-17.6 Q6.6,-15.6 2.8,-14.2 L2.8,-16.9 Q7.6,-18.8 9.7,-23 Z" fill="#000"/><text x="18.904" y="0" font-size="34">6</text><text x="37.808" y="0" font-size="34">7</text></g>
<polyline points="857.0,323.3 964.2,323.3" fill="none" stroke="#000" stroke-width="1.2" stroke-linejoin="round" stroke-linecap="butt" />
<polyline points="1039.0,323.3 1170.0,323.3" fill="none" stroke="#000" stroke-width="1.2" stroke-linejoin="round" stroke-linecap="butt" />
<polygon points="856.3,323.3 873.8,316.2 873.8,330.4" fill="#000" stroke="none" stroke-width="0"/>
<polygon points="1178.4,323.5 1161.4,330.1 1161.4,316.9" fill="#000" stroke="none" stroke-width="0"/>
<g transform="translate(973.90,334.31) scale(0.9900,1.0450)"><text x="0.000" y="0" font-size="34">5</text><path transform="translate(18.904,0)" d="M12,-23 L12,0 L9.1,0 L9.1,-17.6 Q6.6,-15.6 2.8,-14.2 L2.8,-16.9 Q7.6,-18.8 9.7,-23 Z" fill="#000"/><text x="37.808" y="0" font-size="34">3</text></g>
<polyline points="1190.0,323.3 1232.0,323.3" fill="none" stroke="#000" stroke-width="1.2" stroke-linejoin="round" stroke-linecap="butt" />
<polygon points="1182.9,323.3 1200.1,316.3 1200.1,330.3" fill="#000" stroke="none" stroke-width="0"/>
<polygon points="1238.9,323.3 1221.9,330.3 1221.9,316.3" fill="#000" stroke="none" stroke-width="0"/>
<g transform="translate(1193.53,372.18) scale(0.9900,1.0450)"><text x="0.000" y="0" font-size="34">9</text><text x="18.904" y="0" font-size="34">9</text></g>
<polyline points="1180.0,561.2 1289.3,561.2" fill="none" stroke="#000" stroke-width="1.2" stroke-linejoin="round" stroke-linecap="butt" />
<polyline points="1355.3,561.2 1405.0,561.2" fill="none" stroke="#000" stroke-width="1.2" stroke-linejoin="round" stroke-linecap="butt" />
<polygon points="1173.2,561.2 1190.7,554.1 1190.7,568.3" fill="#000" stroke="none" stroke-width="0"/>
<polygon points="1412.2,561.2 1394.7,568.3 1394.7,554.1" fill="#000" stroke="none" stroke-width="0"/>
<g transform="translate(1296.20,570.49) scale(0.9900,1.0450)"><text x="0.000" y="0" font-size="34">3</text><path transform="translate(18.904,0)" d="M12,-23 L12,0 L9.1,0 L9.1,-17.6 Q6.6,-15.6 2.8,-14.2 L2.8,-16.9 Q7.6,-18.8 9.7,-23 Z" fill="#000"/><text x="37.808" y="0" font-size="34">7</text></g>
<polygon points="774.1,639.4 781.2,656.9 767.0,656.9" fill="#000" stroke="none" stroke-width="0"/>
<polygon points="774.1,700.0 767.0,682.5 781.2,682.5" fill="#000" stroke="none" stroke-width="0"/>
<polyline points="774.1,650.0 774.1,690.0" fill="none" stroke="#000" stroke-width="1.2" stroke-linejoin="round" stroke-linecap="butt" />
<text transform="translate(672.31,677.21) scale(0.9650,0.9950)" x="0" y="0" font-size="34">≥</text>
<g transform="translate(700.56,679.79) scale(0.9900,1.0450)"><path transform="translate(0.000,0)" d="M12,-23 L12,0 L9.1,0 L9.1,-17.6 Q6.6,-15.6 2.8,-14.2 L2.8,-16.9 Q7.6,-18.8 9.7,-23 Z" fill="#000"/><text x="18.904" y="0" font-size="34">0</text><text x="37.808" y="0" font-size="34">0</text></g>
</svg></body></html>
